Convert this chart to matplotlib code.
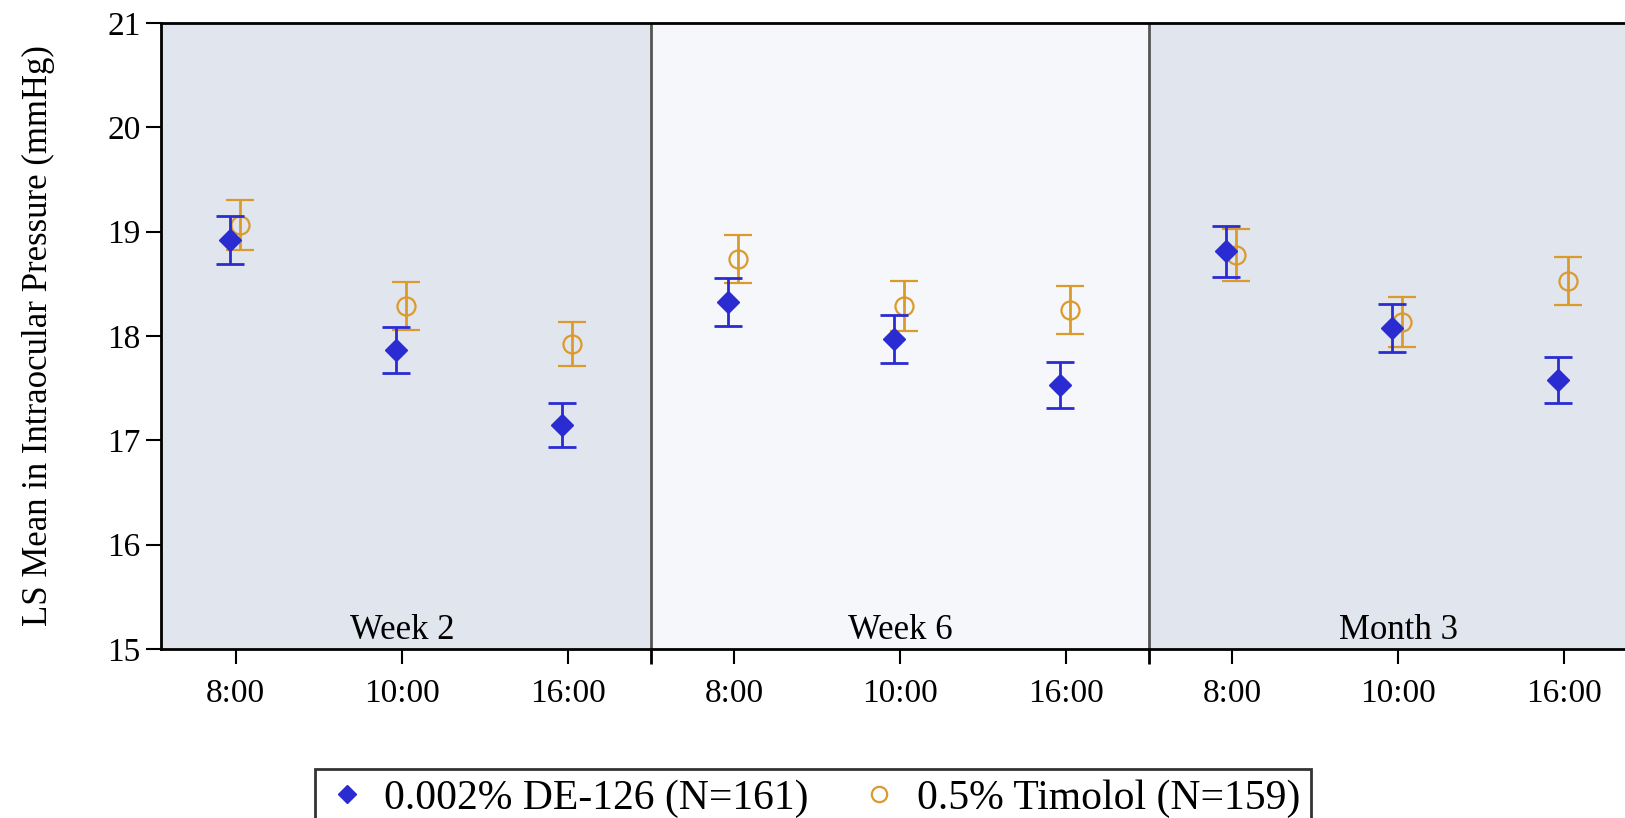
import numpy as np
import matplotlib
matplotlib.use("Agg")
import matplotlib.pyplot as plt

plt.rcParams['font.family'] = ['Liberation Serif', 'DejaVu Serif']

# time points and visit groups
times = ['8:00', '10:00', '16:00', '8:00', '10:00', '16:00', '8:00', '10:00', '16:00']
visits = ['Week 2', 'Week 6', 'Month 3']

# LS means and 95% CI half widths
de126_mean = [18.92, 17.87, 17.15, 18.33, 17.97, 17.53, 18.81, 18.08, 17.58]
de126_err = [0.23, 0.22, 0.21, 0.23, 0.23, 0.22, 0.24, 0.23, 0.22]
timolol_mean = [19.06, 18.29, 17.92, 18.74, 18.29, 18.25, 18.78, 18.13, 18.53]
timolol_err = [0.24, 0.23, 0.21, 0.23, 0.24, 0.23, 0.25, 0.24, 0.23]

label_de = '0.002% DE-126 (N=161)'
label_tim = '0.5% Timolol (N=159)'

W, H = 1625, 818
fig = plt.figure(figsize=(W / 100, H / 100), dpi=100)
# axes runs past the right edge of the figure like in the original
ax = fig.add_axes([161 / W, (H - 649) / H, (1639 - 161) / W, (649 - 23) / H])

x = np.arange(len(times))
ax.set_xlim(-0.45, 8.45)
ax.set_ylim(15, 21)

# panel shading
shades = ['#E1E5EE', '#F6F7FA', '#E1E5EE']
edges = [-0.45, 2.5, 5.5, 8.45]
for i, name in enumerate(visits):
    ax.axvspan(edges[i], edges[i + 1], color=shades[i], zorder=0, lw=0)
    ax.text(1 + 3 * i, 15.02, name, ha='center', va='bottom', fontsize=25)
for s in [2.5, 5.5]:
    ax.axvline(s, color='#555555', lw=2, zorder=1)

blue = '#2B2BD2'
orange = '#DB9A2C'
ax.errorbar(x - 0.035, de126_mean, yerr=de126_err, fmt='D', color=blue, ms=11,
            mec=blue, mfc=blue, ecolor=blue, elinewidth=2, capsize=10, capthick=2,
            label=label_de, zorder=4)
ax.errorbar(x + 0.025, timolol_mean, yerr=timolol_err, fmt='o', color=orange, ms=13,
            mec=orange, mfc='none', mew=1.6, ecolor=orange, elinewidth=2, capsize=10,
            capthick=2, label=label_tim, zorder=3)

ax.set_xticks(x)
ax.set_xticklabels(times)
ax.set_xticks([2.5, 5.5], minor=True)
ax.set_yticks(range(15, 22))
ax.tick_params(axis='both', which='both', direction='out', length=11, width=1.5,
               labelsize=24, color='black')
ax.tick_params(axis='x', which='major', pad=10)
ax.tick_params(axis='x', which='minor', width=2)
ax.set_ylabel('LS Mean in Intraocular Pressure (mmHg)', fontsize=25, labelpad=38)
for sp in ax.spines.values():
    sp.set_linewidth(2)

handles, labels = ax.get_legend_handles_labels()
leg = fig.legend([h[0] for h in handles], labels, loc='upper center',
                 bbox_to_anchor=(813 / W, (H - 769) / H), ncol=2, fontsize=30,
                 frameon=True, fancybox=False, edgecolor='black', handletextpad=0.4,
                 columnspacing=1.2, handlelength=1.0, borderpad=0.25, borderaxespad=0,
                 markerscale=0.85)
leg.get_frame().set_linewidth(2)

fig.savefig('out.png', dpi=100)
